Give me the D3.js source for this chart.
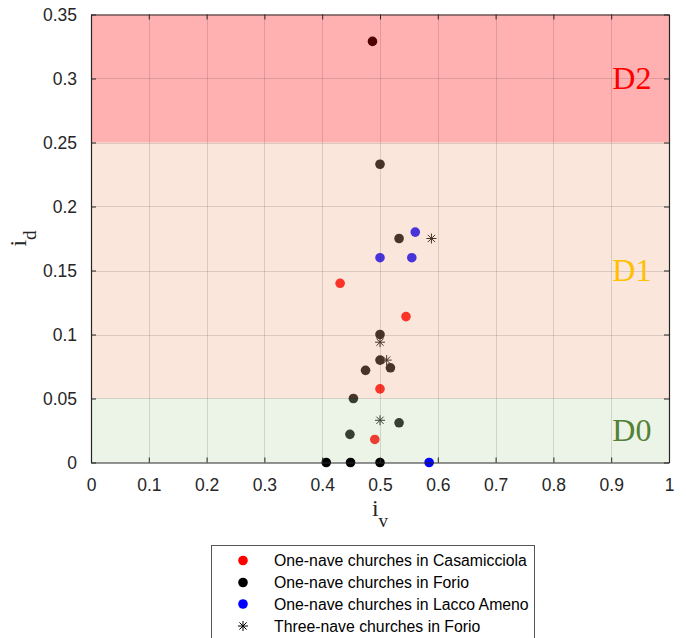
<!DOCTYPE html>
<html>
<head>
<meta charset="utf-8">
<script src="https://cdn.jsdelivr.net/npm/d3@7/dist/d3.min.js"></script>
<style>
  html, body { margin: 0; padding: 0; background: #fff; }
  svg { display: block; }
</style>
</head>
<body>
<svg id="chart" width="686" height="638"></svg>
<script>
// Damage-index scatter: i_v (x) against i_d (y) for the church groups
const casaIv = [0.431, 0.545, 0.500, 0.491];
const casaId = [0.140, 0.114, 0.0575, 0.018];

const forioIv = [0.487, 0.500, 0.533, 0.500, 0.500, 0.475, 0.518, 0.454, 0.533, 0.448, 0.407, 0.449, 0.500];
const forioId = [0.329, 0.233, 0.175, 0.100, 0.080, 0.072, 0.074, 0.050, 0.031, 0.022, 0.000, 0.000, 0.000];

const laccoIv = [0.561, 0.500, 0.555, 0.585];
const laccoId = [0.180, 0.160, 0.160, 0.000];

const threeIv = [0.589, 0.500, 0.5115, 0.500];
const threeId = [0.175, 0.094, 0.080, 0.033];

const xTicks = [0, 0.1, 0.2, 0.3, 0.4, 0.5, 0.6, 0.7, 0.8, 0.9, 1];
const yTicks = [0, 0.05, 0.1, 0.15, 0.2, 0.25, 0.3, 0.35];

// damage level bands
const bandNames = ["D0", "D1", "D2"];
const bandLow = [0, 0.05, 0.25];
const bandHigh = [0.05, 0.25, 0.35];
const bandLabelY = [0.025, 0.15, 0.30];

const seriesNames = [
  "One-nave churches in Casamicciola",
  "One-nave churches in Forio",
  "One-nave churches in Lacco Ameno",
  "Three-nave churches in Forio"
];

const svg = d3.select("#chart");
const L = 91, R = 669, T = 14.5, B = 462.5;
const x = d3.scaleLinear().domain([0, 1]).range([L, R]);
const y = d3.scaleLinear().domain([0, 0.35]).range([B, T]);

const axisCol = "#262626";
const bandFill = { D0: "rgb(190,214,172)", D1: "rgb(238,172,132)", D2: "rgb(255,0,0)" };
const bandAlpha = { D0: 0.29, D1: 0.30, D2: 0.31 };
const bandText = { D0: "rgb(84,130,53)", D1: "rgb(255,192,0)", D2: "rgb(255,0,0)" };

const toPts = (xs, ys) => xs.map((v, i) => ({ iv: v, id: ys[i] }));
const dotGroups = [
  { pts: toPts(casaIv, casaId), color: "rgb(255,0,0)" },
  { pts: toPts(forioIv, forioId), color: "#000" },
  { pts: toPts(laccoIv, laccoId), color: "rgb(0,0,255)" }
];
const stars = toPts(threeIv, threeId);

const r = 4.8;
const starPath = (s) => `M${-s},0H${s}M0,${-s}V${s}M${-s*0.72},${-s*0.72}L${s*0.72},${s*0.72}M${-s*0.72},${s*0.72}L${s*0.72},${-s*0.72}`;

function drawDots(g, filterFn) {
  dotGroups.forEach(grp => {
    g.selectAll(null)
      .data(grp.pts.filter(filterFn))
      .join("circle")
      .attr("cx", d => x(d.iv))
      .attr("cy", d => y(d.id))
      .attr("r", r)
      .attr("fill", grp.color);
  });
  g.selectAll(null)
    .data(stars.filter(filterFn))
    .join("path")
    .attr("transform", d => `translate(${x(d.iv)},${y(d.id)})`)
    .attr("d", starPath(5))
    .attr("stroke", "#000")
    .attr("stroke-width", 1)
    .attr("fill", "none");
}

// points inside the plot sit under the translucent bands
drawDots(svg.append("g"), d => d.id > 0);

// bands
svg.append("g").selectAll("rect")
  .data(bandNames)
  .join("rect")
  .attr("x", L)
  .attr("width", R - L)
  .attr("y", (d, i) => y(bandHigh[i]))
  .attr("height", (d, i) => y(bandLow[i]) - y(bandHigh[i]))
  .attr("fill", d => bandFill[d])
  .attr("fill-opacity", d => bandAlpha[d]);

// grid
const grid = svg.append("g").attr("stroke", axisCol).attr("stroke-opacity", 0.15).attr("stroke-width", 1);
grid.selectAll(null).data(xTicks.slice(1, -1)).join("line")
  .attr("x1", d => Math.round(x(d)) + 0.5).attr("x2", d => Math.round(x(d)) + 0.5)
  .attr("y1", T).attr("y2", B);
grid.selectAll(null).data(yTicks.slice(1, -1)).join("line")
  .attr("y1", d => Math.round(y(d)) + 0.5).attr("y2", d => Math.round(y(d)) + 0.5)
  .attr("x1", L).attr("x2", R);

// points lying on the i_d = 0 axis are drawn in front
drawDots(svg.append("g"), d => d.id === 0);

// band labels
svg.append("g").selectAll("text")
  .data(bandNames)
  .join("text")
  .attr("x", x(0.902))
  .attr("y", (d, i) => y(bandLabelY[i]))
  .attr("dy", "0.34em")
  .attr("font-family", "'Liberation Serif', 'Times New Roman', serif")
  .attr("font-size", 32)
  .attr("fill", d => bandText[d])
  .text(d => d);

// axes: bottom/left with labels, top/right mirrored ticks
const fmt = d => d3.format("~g")(d);
const xAxis = svg.append("g").attr("transform", `translate(0,${B})`)
  .call(d3.axisBottom(x).tickValues(xTicks).tickFormat(fmt).tickSizeInner(-5).tickSizeOuter(0).tickPadding(16));
const yAxis = svg.append("g").attr("transform", `translate(${L},0)`)
  .call(d3.axisLeft(y).tickValues(yTicks).tickFormat(fmt).tickSizeInner(-5).tickSizeOuter(0).tickPadding(14));
const xTop = svg.append("g").attr("transform", `translate(0,${T})`)
  .call(d3.axisTop(x).tickValues(xTicks).tickFormat("").tickSizeInner(-5).tickSizeOuter(0));
const yRight = svg.append("g").attr("transform", `translate(${R},0)`)
  .call(d3.axisRight(y).tickValues(yTicks).tickFormat("").tickSizeInner(-5).tickSizeOuter(0));

[xAxis, yAxis, xTop, yRight].forEach(a => {
  a.select(".domain").attr("stroke", axisCol).attr("stroke-width", 1.2);
  a.selectAll(".tick line").attr("stroke", axisCol);
  a.selectAll("text")
    .attr("font-family", "'Liberation Sans', Arial, sans-serif")
    .attr("font-size", 17.5)
    .attr("fill", axisCol);
});

// axis titles
const xl = svg.append("text")
  .attr("x", x(0.5)).attr("y", 516)
  .attr("text-anchor", "middle")
  .attr("font-family", "'Liberation Serif', 'Times New Roman', serif")
  .attr("fill", axisCol);
xl.append("tspan").attr("font-size", 24).text("i");
xl.append("tspan").attr("font-size", 19).attr("dy", 11).text("v");

const yl = svg.append("text")
  .attr("transform", `translate(26,${(T + B) / 2}) rotate(-90)`)
  .attr("text-anchor", "middle")
  .attr("font-family", "'Liberation Serif', 'Times New Roman', serif")
  .attr("fill", axisCol);
yl.append("tspan").attr("font-size", 24).text("i");
yl.append("tspan").attr("font-size", 19).attr("dy", 10).text("d");

// legend
const lg = svg.append("g");
lg.append("rect")
  .attr("x", 211.5).attr("y", 545.5)
  .attr("width", 323).attr("height", 110)
  .attr("fill", "#fff").attr("stroke", "#555").attr("stroke-width", 1);
const rowY = [566, 588, 609.5, 631.5];
seriesNames.forEach((name, i) => {
  const cy = rowY[i] - 5.5;
  if (i < 3) {
    lg.append("circle").attr("cx", 243).attr("cy", cy).attr("r", r).attr("fill", dotGroups[i].color);
  } else {
    lg.append("path").attr("transform", `translate(243,${cy})`).attr("d", starPath(5))
      .attr("stroke", "#000").attr("stroke-width", 1).attr("fill", "none");
  }
  lg.append("text")
    .attr("x", 274).attr("y", rowY[i])
    .attr("font-family", "'Liberation Sans', Arial, sans-serif")
    .attr("font-size", 15.8)
    .attr("fill", "#000")
    .text(name);
});
</script>
</body>
</html>
